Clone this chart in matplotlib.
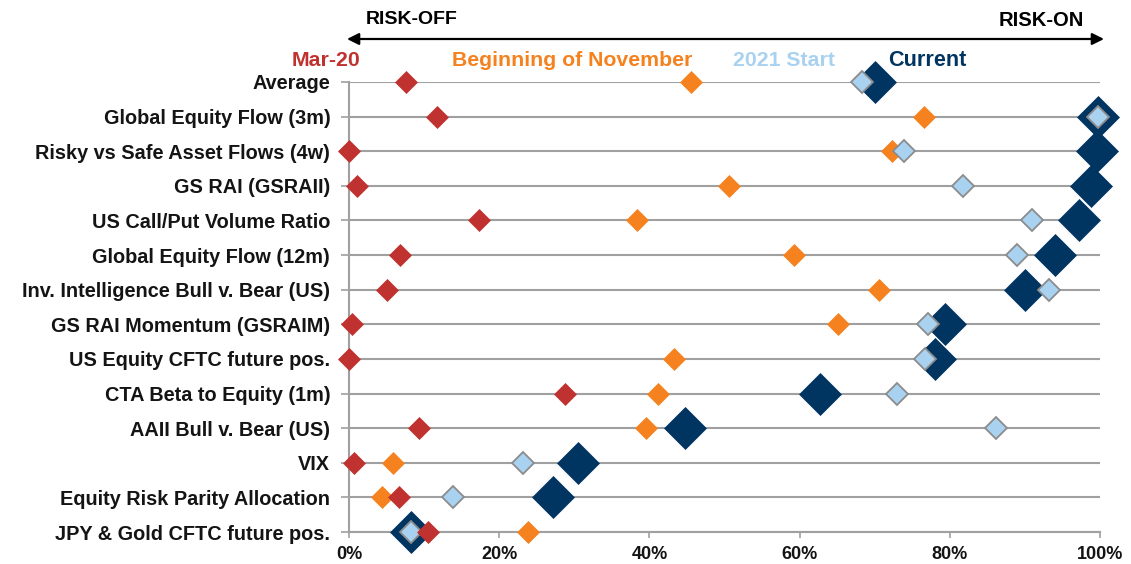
import matplotlib
matplotlib.use("Agg")
import matplotlib.pyplot as plt
from matplotlib.patches import FancyArrowPatch

categories = [
    "Average",
    "Global Equity Flow (3m)",
    "Risky vs Safe Asset Flows (4w)",
    "GS RAI (GSRAII)",
    "US Call/Put Volume Ratio",
    "Global Equity Flow (12m)",
    "Inv. Intelligence Bull v. Bear (US)",
    "GS RAI Momentum (GSRAIM)",
    "US Equity CFTC future pos.",
    "CTA Beta to Equity (1m)",
    "AAII Bull v. Bear (US)",
    "VIX",
    "Equity Risk Parity Allocation",
    "JPY & Gold CFTC future pos.",
]
mar20 = [7.6, 11.7, 0.0, 1.0, 17.3, 6.8, 5.0, 0.4, 0.0, 28.7, 9.3, 0.6, 6.7, 10.5]
beg_nov = [45.5, 76.5, 72.3, 50.6, 38.3, 59.2, 70.6, 65.1, 43.3, 41.1, 39.5, 5.8, 4.4, 23.9]
start_2021 = [68.3, 99.8, 73.9, 81.8, 91.0, 88.9, 93.2, 77.1, 76.7, 73.0, 86.2, 23.2, 13.8, 8.3]
current = [70.1, 99.8, 99.6, 98.8, 97.2, 94.0, 90.0, 79.3, 78.0, 62.7, 44.8, 30.5, 27.2, 8.3]
xticks = [0, 20, 40, 60, 80, 100]
xtick_labels = ["0%", "20%", "40%", "60%", "80%", "100%"]

RED = "#C0322F"
ORANGE = "#F5821F"
LBLUE = "#A9D1F0"
NAVY = "#003461"
GRID = "#A0A0A0"

W, H = 1131, 564
fig = plt.figure(figsize=(W / 100, H / 100), dpi=100)
fig.patch.set_facecolor("white")

def fx(x):
    return x / W

def fy(y):
    return 1 - y / H

left, right, top, bottom = 349, 1100, 82, 532
ax = fig.add_axes([fx(left), fy(bottom), fx(right) - fx(left), fy(top) - fy(bottom)])

ypos = list(range(len(categories)))
ax.set_xlim(0, 100)
ax.set_ylim(len(categories) - 1, 0)

for y in ypos:
    ax.axhline(y, color=GRID, lw=1.5, zorder=1)

ax.plot(current, ypos, ls="none", marker="D", ms=21, mfc=NAVY, mec=NAVY, mew=0.5, zorder=3, clip_on=False)
ax.plot(beg_nov, ypos, ls="none", marker="D", ms=11.5, mfc=ORANGE, mec=ORANGE, mew=0.5, zorder=4, clip_on=False)
ax.plot(start_2021, ypos, ls="none", marker="D", ms=11.5, mfc=LBLUE, mec="#8C8C8C", mew=1.3, zorder=5, clip_on=False)
ax.plot(mar20, ypos, ls="none", marker="D", ms=11.5, mfc=RED, mec=RED, mew=0.5, zorder=6, clip_on=False)

for s in ["top", "right"]:
    ax.spines[s].set_visible(False)
for s in ["left", "bottom"]:
    ax.spines[s].set_color(GRID)
    ax.spines[s].set_linewidth(1.5)

ax.set_yticks(ypos)
ax.set_yticklabels(categories, fontsize=14.3, fontweight="bold",
                   family=["Liberation Sans", "DejaVu Sans"], color="#141414")
ax.tick_params(axis="y", length=5.5, width=1.2, color=GRID, pad=8)
ax.set_xticks(xticks)
ax.set_xticklabels(xtick_labels, fontsize=13, fontweight="bold",
                   family=["Liberation Sans Narrow", "Liberation Sans", "DejaVu Sans"], color="#141414")
ax.tick_params(axis="x", length=4, width=1.2, color=GRID, pad=6)

# header
hdr_font = ["Liberation Sans Narrow", "Liberation Sans", "DejaVu Sans"]
fig.text(fx(366), fy(20), "RISK-OFF", ha="left", va="center", fontsize=14, fontweight="bold", family=hdr_font, color="#000000")
fig.text(fx(1084), fy(20), "RISK-ON", ha="right", va="center", fontsize=14.6, fontweight="bold", family=hdr_font, color="#000000")
arrow = FancyArrowPatch((fx(347), fy(39)), (fx(1104), fy(39)), transform=fig.transFigure,
                        arrowstyle="<|-|>,head_length=7,head_width=3.5", color="#000000", lw=1.6,
                        mutation_scale=1, shrinkA=0, shrinkB=0)
fig.patches.append(arrow)

fig.text(fx(360), fy(61), "Mar-20", ha="right", va="center", fontsize=15.3, fontweight="bold", family=hdr_font, color=RED)
fig.text(fx(452), fy(61), "Beginning of November", ha="left", va="center", fontsize=15.3, fontweight="bold", family=hdr_font, color=ORANGE)
fig.text(fx(733), fy(61), "2021 Start", ha="left", va="center", fontsize=15.3, fontweight="bold", family=hdr_font, color=LBLUE)
fig.text(fx(888), fy(61), "Current", ha="left", va="center", fontsize=15.6, fontweight="bold", family=hdr_font, color=NAVY)

fig.savefig("out.png", dpi=100)
